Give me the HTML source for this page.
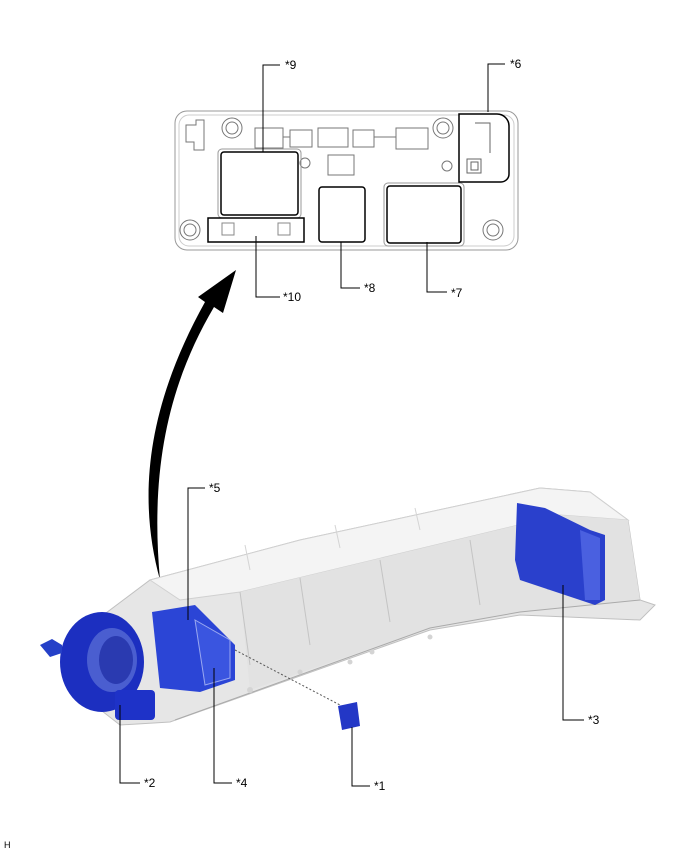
<!DOCTYPE html>
<html><head><style>
html,body{margin:0;padding:0;background:#fff;}
svg{display:block;}
text{font-family:"Liberation Sans",Arial,sans-serif;font-size:12px;fill:#000;}
</style></head><body>
<svg width="688" height="852" viewBox="0 0 688 852" xmlns="http://www.w3.org/2000/svg">
<!-- top panel -->
<g fill="none" stroke="#777" stroke-width="1">
<rect x="175" y="111" width="343" height="139" rx="12" fill="#fff" stroke="#999"/>
<rect x="179" y="115" width="335" height="131" rx="10" stroke="#ccc"/>
<circle cx="232" cy="128" r="10"/><circle cx="232" cy="128" r="6"/>
<circle cx="443" cy="128" r="10"/><circle cx="443" cy="128" r="6"/>
<circle cx="190" cy="230" r="10"/><circle cx="190" cy="230" r="6"/>
<circle cx="493" cy="230" r="10"/><circle cx="493" cy="230" r="6"/>
<path d="M186,125 h10 v-5 h8 v30 h-10 v-8 h-8z"/>
<rect x="255" y="128" width="28" height="20"/><rect x="290" y="130" width="22" height="17"/>
<rect x="318" y="128" width="30" height="19"/><rect x="353" y="130" width="21" height="17"/>
<rect x="396" y="128" width="32" height="21"/>
<line x1="283" y1="137" x2="290" y2="137"/><line x1="374" y1="137" x2="396" y2="137"/>
<rect x="328" y="155" width="26" height="20"/>
<circle cx="305" cy="163" r="5"/><circle cx="447" cy="166" r="5"/>
</g>
<rect x="221" y="152" width="77" height="63" rx="3" fill="#fff" stroke="#000" stroke-width="1.5"/>
<rect x="218" y="149" width="83" height="69" rx="4" fill="none" stroke="#999"/>
<rect x="208" y="218" width="96" height="24" fill="#fff" stroke="#000" stroke-width="1.5"/>
<rect x="222" y="223" width="12" height="12" fill="none" stroke="#888"/>
<rect x="278" y="223" width="12" height="12" fill="none" stroke="#888"/>
<rect x="319" y="187" width="46" height="55" rx="3" fill="#fff" stroke="#000" stroke-width="1.5"/>
<rect x="387" y="186" width="74" height="57" rx="3" fill="#fff" stroke="#000" stroke-width="1.5"/>
<rect x="384" y="183" width="80" height="63" rx="4" fill="none" stroke="#999"/>
<path d="M459,114 h38 a12,12 0 0 1 12,12 v48 a8,8 0 0 1 -8,8 h-42z" fill="#fff" stroke="#000" stroke-width="1.5"/>
<g fill="none" stroke="#666"><path d="M475,123 h15 v30"/><rect x="467" y="159" width="14" height="14"/><rect x="471" y="162" width="7" height="8"/></g>
<!-- top leaders -->
<g fill="none" stroke="#000" stroke-width="1">
<path d="M280,65 H263 V152"/><path d="M505,64 H488 V112"/>
<path d="M256,236 V297 H280"/><path d="M341,242 V288 H360"/><path d="M427,242 V292 H447"/>
</g>
<text x="285" y="69">*9</text><text x="510" y="68">*6</text>
<text x="283" y="301">*10</text><text x="364" y="292">*8</text><text x="451" y="297">*7</text>
<!-- arrow -->
<path d="M160,580 C138,500 145,410 205,302 L198,297 L236,270 L223,313 L214,307 C168,385 150,470 160,580 Z" fill="#000"/>
<!-- battery body -->
<path d="M70,640 L150,580 L300,540 L540,488 L590,492 L628,520 L640,600 L655,605 L640,620 L520,615 L430,630 L170,722 L120,725 L75,690 Z" fill="#e6e6e6" stroke="#c0c0c0"/>
<path d="M150,580 L300,540 L540,488 L590,492 L628,520 L560,515 L240,592 L180,600 Z" fill="#f4f4f4" stroke="#d0d0d0"/>
<path d="M240,592 L560,515 L628,520 L640,600 L520,612 L430,628 L250,690 Z" fill="#e2e2e2"/>
<path d="M175,720 L430,628 L520,612 L640,600" fill="none" stroke="#aaa"/>
<path d="M240,592 L250,665 M300,578 L310,645 M380,560 L390,622 M470,540 L480,605 M540,522 L548,590" fill="none" stroke="#c4c4c4"/>
<path d="M250,570 L245,545 M340,548 L335,525 M420,530 L415,508" fill="none" stroke="#d4d4d4"/>
<g fill="#d4d4d4"><circle cx="350" cy="662" r="2.5"/><circle cx="372" cy="652" r="2.5"/><circle cx="300" cy="672" r="2.5"/><circle cx="430" cy="637" r="2.5"/><circle cx="250" cy="690" r="3"/></g>
<!-- blue parts -->
<ellipse cx="102" cy="662" rx="42" ry="50" fill="#1c2fc0"/>
<ellipse cx="112" cy="660" rx="25" ry="32" fill="#4a5ed0"/>
<ellipse cx="116" cy="660" rx="17" ry="24" fill="#2a3ab0"/>
<rect x="115" y="690" width="40" height="30" rx="4" fill="#1e32c8"/>
<path d="M40,645 l12,-6 l10,6 v8 l-12,4 z" fill="#2540c8"/>
<path d="M152,612 L195,605 L210,620 L235,645 L235,680 L200,692 L160,688 Z" fill="#2b45d6"/>
<path d="M195,620 L230,640 L230,678 L205,685 Z" fill="#3a55e0" stroke="#9aa8f0"/>
<path d="M517,503 L545,508 L590,530 L605,535 L605,600 L595,605 L520,580 L515,560 Z" fill="#2a40cc"/>
<path d="M580,530 L600,538 L600,600 L585,600 Z" fill="#4a60e0"/>
<path d="M338,706 L357,702 L360,726 L342,730 Z" fill="#2337c6"/>
<line x1="235" y1="650" x2="340" y2="705" stroke="#555" stroke-dasharray="2,2"/>
<!-- bottom leaders -->
<g fill="none" stroke="#000">
<path d="M205,488 H188 V620"/><path d="M120,705 V783 H140"/><path d="M214,668 V783 H232"/>
<path d="M352,727 V786 H370"/><path d="M563,585 V720 H584"/>
</g>
<text x="209" y="492">*5</text><text x="144" y="787">*2</text><text x="236" y="787">*4</text>
<text x="374" y="790">*1</text><text x="588" y="724">*3</text>
<text x="4" y="848" style="font-size:9px">H</text>
</svg>
</body></html>
